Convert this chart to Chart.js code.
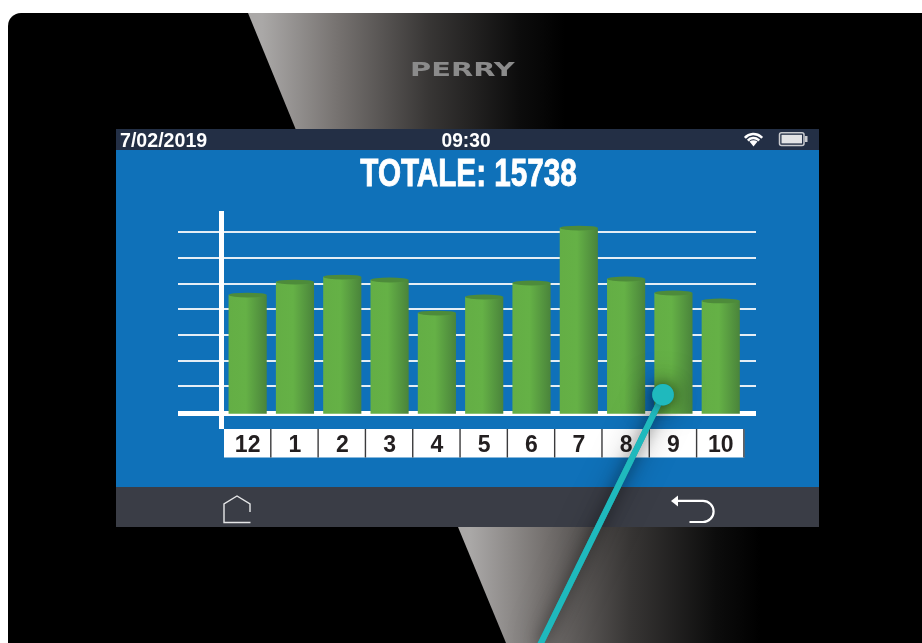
<!DOCTYPE html>
<html>
<head>
<meta charset="utf-8">
<title>Totale</title>
<style>
  html, body { margin: 0; padding: 0; background: #fff; overflow: hidden; }
  canvas { display: block; }
</style>
<script src="https://cdn.jsdelivr.net/npm/chart.js@4"></script>
</head>
<body>
<canvas id="chart" width="922" height="643"></canvas>
<script>
// values
const months = ['12', '1', '2', '3', '4', '5', '6', '7', '8', '9', '10'];
const totals = [1311, 1457, 1513, 1480, 1109, 1289, 1446, 2063, 1491, 1334, 1245];
const gridValues = [0, 288, 576, 864, 1152, 1440, 1728, 2016];
const dateText = '7/02/2019';
const timeText = '09:30';
const titleText = 'TOTALE: 15738';
const logoText = 'PERRY';

const SANS = '"Liberation Sans", sans-serif';

function beam(ctx, pts, x0, x1) {
  const g = ctx.createLinearGradient(x0, 0, x1, 0);
  g.addColorStop(0, '#aaa8a7');
  g.addColorStop(0.25, '#767270');
  g.addColorStop(0.55, '#383635');
  g.addColorStop(0.85, '#0c0c0c');
  g.addColorStop(1, '#000');
  ctx.fillStyle = g;
  ctx.beginPath();
  pts.forEach((p, i) => (i ? ctx.lineTo(p[0], p[1]) : ctx.moveTo(p[0], p[1])));
  ctx.closePath();
  ctx.fill();
}

// narrow bold text: no condensed face is installed, so squeeze it
function squeezed(ctx, text, x, y, size, sx, heavy) {
  ctx.save();
  ctx.translate(x, y);
  ctx.scale(sx, 1);
  ctx.font = 'bold ' + size + 'px ' + SANS;
  if (heavy) {
    ctx.strokeStyle = ctx.fillStyle;
    ctx.lineWidth = heavy;
    ctx.strokeText(text, 0, 0);
  }
  ctx.fillText(text, 0, 0);
  ctx.restore();
}

function drawIcons(ctx) {
  // wifi
  ctx.strokeStyle = '#fff';
  ctx.lineWidth = 2.6;
  [11.5, 7.5].forEach((r) => {
    ctx.beginPath();
    ctx.arc(753.5, 145.5, r, -Math.PI * 0.77, -Math.PI * 0.23);
    ctx.stroke();
  });
  ctx.fillStyle = '#fff';
  ctx.beginPath();
  ctx.moveTo(753.5, 146.5);
  ctx.lineTo(749.5, 141.5);
  ctx.quadraticCurveTo(753.5, 139, 757.5, 141.5);
  ctx.closePath();
  ctx.fill();

  // battery
  ctx.strokeStyle = '#c9cbcf';
  ctx.lineWidth = 1.5;
  ctx.beginPath();
  ctx.roundRect(779.5, 132.8, 24.5, 12.6, 2);
  ctx.stroke();
  ctx.fillStyle = '#e2e3e5';
  ctx.fillRect(781.5, 134.8, 20.5, 8.6);
  ctx.fillStyle = '#c9cbcf';
  ctx.fillRect(805, 136, 2.5, 6);

  // home
  ctx.strokeStyle = '#e6e7e8';
  ctx.lineWidth = 1.4;
  ctx.beginPath();
  ctx.moveTo(250, 512);
  ctx.lineTo(250, 504);
  ctx.lineTo(237, 496);
  ctx.lineTo(224, 504);
  ctx.lineTo(224, 522.5);
  ctx.lineTo(250.5, 522.5);
  ctx.stroke();

  // back
  ctx.strokeStyle = '#fff';
  ctx.lineWidth = 2.2;
  ctx.beginPath();
  ctx.moveTo(676, 500.8);
  ctx.lineTo(703, 500.8);
  ctx.arc(703, 511.4, 10.6, -Math.PI / 2, Math.PI / 2);
  ctx.lineTo(689.5, 522);
  ctx.stroke();
  ctx.fillStyle = '#fff';
  ctx.beginPath();
  ctx.moveTo(671, 501);
  ctx.lineTo(678, 495.5);
  ctx.lineTo(678, 506.5);
  ctx.closePath();
  ctx.fill();
}

const devicePlugin = {
  id: 'device',
  beforeDraw(chart) {
    const ctx = chart.ctx;
    const x = chart.scales.x;
    ctx.save();

    // device body
    ctx.fillStyle = '#000';
    ctx.beginPath();
    ctx.roundRect(8, 13, 930, 650, 13);
    ctx.fill();
    beam(ctx, [[248, 13], [296, 130], [600, 130], [600, 13]], 262, 565);
    beam(ctx, [[458, 527], [506, 643], [790, 643], [790, 527]], 470, 760);

    // logo
    ctx.save();
    ctx.translate(410, 76);
    ctx.scale(1.52, 1);
    ctx.font = 'bold 19px "DejaVu Sans", sans-serif';
    ctx.fillStyle = '#8b8b8b';
    ctx.textAlign = 'left';
    ctx.fillText(logoText, 0, 0);
    ctx.restore();

    // screen
    ctx.fillStyle = '#232f45';
    ctx.fillRect(116, 129, 703, 21);
    ctx.fillStyle = '#0f71b9';
    ctx.fillRect(116, 150, 703, 337);
    ctx.fillStyle = '#3a3d46';
    ctx.fillRect(116, 487, 703, 40);

    ctx.fillStyle = '#fff';
    ctx.textBaseline = 'alphabetic';
    ctx.textAlign = 'left';
    squeezed(ctx, dateText, 120, 146.5, 20, 0.98);
    ctx.textAlign = 'center';
    squeezed(ctx, timeText, 466, 146.5, 20, 0.96);
    squeezed(ctx, titleText, 468.5, 186, 38, 0.78, 0.9);

    drawIcons(ctx);

    // white label cells under the axis
    const w = x.width / months.length;
    ctx.fillStyle = '#fff';
    ctx.fillRect(x.left, 429, x.width, 28.5);
    ctx.fillStyle = '#3b3b3d';
    months.forEach((m, i) => {
      ctx.fillRect(x.getPixelForTick(i) + w / 2 - 1.2, 429, 1.4, 28.5);
    });
    ctx.restore();
  },
  beforeDatasetsDraw(chart) {
    const ctx = chart.ctx;
    const y = chart.scales.y;
    ctx.save();
    ctx.fillStyle = '#e4edf5';
    gridValues.slice(1).forEach((v) => {
      ctx.fillRect(178, Math.round(y.getPixelForValue(v)) - 1, 578, 2);
    });
    ctx.fillStyle = '#fff';
    ctx.fillRect(178, 411, 578, 5);
    ctx.fillRect(219, y.getPixelForValue(y.max), 5, 218);
    ctx.restore();
  },
  afterDatasetsDraw(chart) {
    // cylinder tops
    const ctx = chart.ctx;
    ctx.save();
    ctx.fillStyle = '#4d8b3a';
    chart.getDatasetMeta(0).data.forEach((bar) => {
      ctx.beginPath();
      ctx.ellipse(bar.x, bar.y, bar.width / 2, 2.4, 0, 0, Math.PI * 2);
      ctx.fill();
    });
    ctx.restore();
  },
  afterDraw(chart) {
    // pointer callout, soft wide shadow first
    const ctx = chart.ctx;
    ctx.save();
    ctx.strokeStyle = '#1fb9bd';
    ctx.fillStyle = '#1fb9bd';
    ctx.lineWidth = 6;
    [[30, 0.5], [14, 0.5]].forEach(([blur, alpha]) => {
      ctx.shadowColor = 'rgba(0,0,0,' + alpha + ')';
      ctx.shadowBlur = blur;
      ctx.beginPath();
      ctx.moveTo(663, 395);
      ctx.lineTo(540, 645);
      ctx.stroke();
      ctx.beginPath();
      ctx.arc(663, 394.7, 10.8, 0, Math.PI * 2);
      ctx.fill();
    });
    ctx.restore();
  }
};

function barFill(c) {
  const x = c.chart.scales && c.chart.scales.x;
  if (!x || c.dataIndex === undefined) return '#5ca844';
  const cx = x.getPixelForTick(c.dataIndex);
  const g = c.chart.ctx.createLinearGradient(cx - 19, 0, cx + 19, 0);
  g.addColorStop(0, '#64ae45');
  g.addColorStop(0.45, '#65b146');
  g.addColorStop(1, '#4a843b');
  return g;
}

new Chart(document.getElementById('chart'), {
  type: 'bar',
  data: {
    labels: months,
    datasets: [{
      data: totals,
      backgroundColor: barFill,
      barThickness: 37.5,
      base: -20
    }]
  },
  plugins: [devicePlugin],
  options: {
    responsive: false,
    animation: false,
    events: [],
    layout: { padding: { left: 224, right: 177.6, top: 211, bottom: 184.3 } },
    plugins: { legend: { display: false }, tooltip: { enabled: false } },
    scales: {
      x: {
        grid: { display: false, drawTicks: false },
        border: { display: false },
        afterFit(scale) { scale.height = 45; },
        ticks: {
          color: '#231f20',
          font: { family: SANS, size: 23, weight: 'bold' },
          padding: 18,
          autoSkip: false,
          maxRotation: 0
        }
      },
      y: {
        min: -20,
        max: 2254,
        grid: { display: false },
        border: { display: false },
        afterFit(scale) { scale.width = 0; },
        afterBuildTicks(scale) { scale.ticks = gridValues.map((value) => ({ value })); },
        ticks: { display: false }
      }
    }
  }
});
</script>
</body>
</html>
